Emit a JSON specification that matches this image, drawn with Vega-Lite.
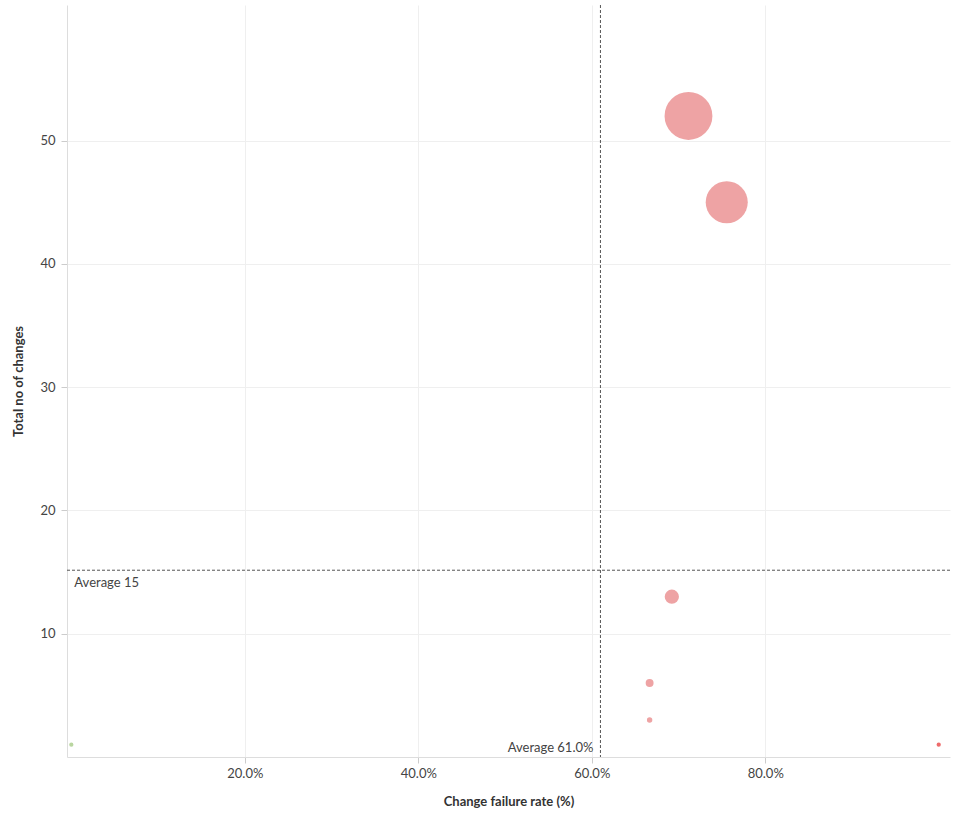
{
  "$schema": "https://vega.github.io/schema/vega-lite/v6.json",
  "autosize": {"type": "none"},
  "width": 883,
  "height": 752,
  "padding": {"left": 67, "top": 5, "right": 7, "bottom": 61},
  "background": "white",
  "config": {
    "font": "Lato",
    "view": {"stroke": null},
    "axis": {
      "labelFont": "Lato", "labelFontSize": 13, "labelColor": "#444444",
      "titleFont": "Lato", "titleFontSize": 13, "titleFontWeight": "bold", "titleColor": "#333333",
      "gridColor": "#efefef", "domainColor": "#dddddd", "tickColor": "#cccccc", "tickSize": 6
    }
  },
  "datasets": {
    "points": [
      {"rate": 0.0, "total": 1, "band": "low"},
      {"rate": 1.0, "total": 1, "band": "high"},
      {"rate": 0.6667, "total": 3, "band": "mid"},
      {"rate": 0.6667, "total": 6, "band": "mid"},
      {"rate": 0.6923, "total": 13, "band": "mid"},
      {"rate": 0.7115, "total": 52, "band": "mid"},
      {"rate": 0.7556, "total": 45, "band": "mid"}
    ],
    "avgx": [{"rate": 0.61, "label": "Average 61.0%", "total": 0}],
    "avgy": [{"total": 15.15, "label": "Average 15", "rate": 0}]
  },
  "layer": [
    {
      "data": {"name": "points"},
      "mark": {"type": "circle", "opacity": 1},
      "encoding": {
        "x": {"field": "rate", "type": "quantitative", "scale": {"domain": [-0.005, 1.013], "nice": false, "zero": false},
              "axis": {"values": [0.2, 0.4, 0.6, 0.8], "format": ".1%", "title": "Change failure rate (%)", "titlePadding": 15, "labelPadding": 4}},
        "y": {"field": "total", "type": "quantitative", "scale": {"domain": [0, 61], "nice": false},
              "axis": {"values": [10, 20, 30, 40, 50], "title": "Total no of changes", "titlePadding": 14, "labelPadding": 6}},
        "size": {"field": "total", "type": "quantitative", "scale": {"type": "pow", "exponent": 1.8, "domain": [0, 52], "range": [16, 2290]}, "legend": null},
        "color": {"field": "band", "type": "nominal", "scale": {"domain": ["low", "mid", "high"], "range": ["#b9d6a0", "#eea3a4", "#ee6b6b"]}, "legend": null}
      }
    },
    {
      "data": {"name": "avgx"},
      "mark": {"type": "rule", "color": "#555555", "strokeWidth": 1, "strokeDash": [3, 2]},
      "encoding": {"x": {"field": "rate", "type": "quantitative"}}
    },
    {
      "data": {"name": "avgy"},
      "mark": {"type": "rule", "color": "#555555", "strokeWidth": 1, "strokeDash": [3, 2]},
      "encoding": {"y": {"field": "total", "type": "quantitative"}}
    },
    {
      "data": {"name": "avgx"},
      "mark": {"type": "text", "align": "right", "baseline": "bottom", "dx": -7, "dy": -2, "fontSize": 13, "color": "#444444", "font": "Lato"},
      "encoding": {"x": {"field": "rate", "type": "quantitative"}, "y": {"field": "total", "type": "quantitative"}, "text": {"field": "label"}}
    },
    {
      "data": {"name": "avgy"},
      "mark": {"type": "text", "align": "left", "baseline": "top", "dx": 3, "dy": 7, "fontSize": 13, "color": "#444444", "font": "Lato"},
      "encoding": {"x": {"field": "rate", "type": "quantitative"}, "y": {"field": "total", "type": "quantitative"}, "text": {"field": "label"}}
    }
  ]
}
